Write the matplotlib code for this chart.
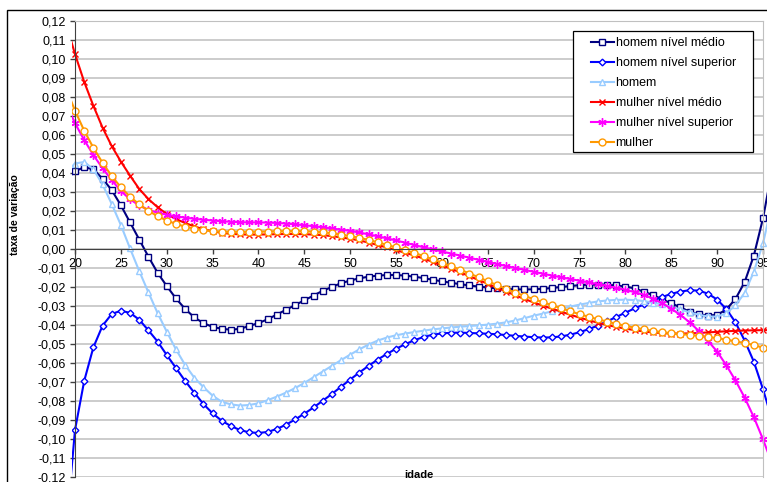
import numpy as np
import matplotlib
matplotlib.use("Agg")
import matplotlib.pyplot as plt
from matplotlib.ticker import FuncFormatter, FixedLocator
from matplotlib.transforms import Bbox, TransformedBbox
from matplotlib.patches import Rectangle

plt.rcParams['font.family'] = ['Liberation Sans', 'DejaVu Sans']

# ages 19..96 (the axis shows 20..95, the curves run a little past both ends)
idade = list(range(19, 97))

homem_medio = [
    0.036, 0.041, 0.043, 0.042, 0.037, 0.031, 0.023, 0.014, 0.005, -0.004,
    -0.0125, -0.0195, -0.026, -0.0315, -0.036, -0.039, -0.041, -0.042, -0.0425, -0.042,
    -0.0405, -0.039, -0.037, -0.0345, -0.032, -0.0295, -0.027, -0.0245, -0.022, -0.020,
    -0.018, -0.0166, -0.0154, -0.0146, -0.014, -0.0137, -0.0137, -0.014, -0.0146, -0.0153,
    -0.0162, -0.017, -0.0178, -0.0185, -0.0192, -0.0198, -0.0203, -0.0207, -0.021, -0.0212,
    -0.0213, -0.0212, -0.021, -0.0205, -0.020, -0.0195, -0.019, -0.0188, -0.0187, -0.0188,
    -0.0192, -0.0198, -0.0207, -0.0225, -0.0242, -0.0265, -0.0286, -0.0307, -0.033, -0.0344,
    -0.035, -0.0347, -0.0318, -0.0263, -0.0174, -0.0035, 0.0161, 0.042,
]

homem_superior = [
    -0.150, -0.0953, -0.0695, -0.0518, -0.0404, -0.0342, -0.0325, -0.0336, -0.0372, -0.0428,
    -0.0487, -0.0558, -0.0626, -0.0694, -0.0756, -0.0816, -0.0865, -0.0904, -0.0932, -0.0953,
    -0.0965, -0.0968, -0.0963, -0.0947, -0.0925, -0.0897, -0.0867, -0.0834, -0.0799, -0.0763,
    -0.0725, -0.0687, -0.065, -0.0615, -0.0582, -0.0552, -0.0525, -0.0501, -0.048, -0.0463,
    -0.0451, -0.0444, -0.0441, -0.044, -0.0442, -0.0444, -0.0446, -0.0449, -0.0453, -0.0457,
    -0.0461, -0.0464, -0.0466, -0.0465, -0.046, -0.0451, -0.0438, -0.0422, -0.0403, -0.0381,
    -0.0358, -0.0335, -0.0313, -0.0292, -0.0272, -0.0253, -0.0236, -0.0224, -0.0217, -0.0219,
    -0.0235, -0.0266, -0.0316, -0.0386, -0.0482, -0.0593, -0.0738, -0.090,
]

homem = [
    0.040, 0.045, 0.0458, 0.042, 0.034, 0.0237, 0.0126, 0.0003, -0.0116, -0.0228,
    -0.0337, -0.0435, -0.0528, -0.061, -0.0677, -0.0727, -0.0772, -0.0804, -0.0818, -0.0824,
    -0.0821, -0.0812, -0.0796, -0.0777, -0.0756, -0.0732, -0.0705, -0.0675, -0.0645, -0.0615,
    -0.0585, -0.0556, -0.0528, -0.0503, -0.0482, -0.0466, -0.0454, -0.0445, -0.0437, -0.043,
    -0.0423, -0.0418, -0.0413, -0.0409, -0.0405, -0.0402, -0.0398, -0.0393, -0.0386, -0.0376,
    -0.0364, -0.0351, -0.034, -0.0328, -0.0316, -0.0303, -0.0293, -0.0284, -0.0276, -0.0271,
    -0.0268, -0.0267, -0.0269, -0.0274, -0.0282, -0.0292, -0.0304, -0.0318, -0.0333, -0.0346,
    -0.0355, -0.0356, -0.0338, -0.0297, -0.0231, -0.012, 0.003, 0.024,
]

mulher_medio = [
    0.119, 0.1026, 0.088, 0.0754, 0.0639, 0.0542, 0.046, 0.0386, 0.0316, 0.0263,
    0.022, 0.0184, 0.0158, 0.0137, 0.0119, 0.0104, 0.0093, 0.0085, 0.008, 0.0077,
    0.0076, 0.0076, 0.0077, 0.0078, 0.0079, 0.0079, 0.0078, 0.0076, 0.0073, 0.0068,
    0.0061, 0.0054, 0.0045, 0.0034, 0.0021, 0.0008, -0.0006, -0.002, -0.0034, -0.005,
    -0.0068, -0.0086, -0.0104, -0.0123, -0.0143, -0.0163, -0.0183, -0.0204, -0.0224, -0.0244,
    -0.0263, -0.0281, -0.0298, -0.0314, -0.033, -0.0346, -0.0361, -0.0375, -0.0388, -0.04,
    -0.041, -0.0419, -0.0427, -0.0434, -0.0439, -0.0443, -0.0445, -0.0445, -0.0444, -0.0442,
    -0.0439, -0.0436, -0.0433, -0.0431, -0.0429, -0.0428, -0.0427, -0.0427,
]

mulher_superior = [
    0.077, 0.0662, 0.0574, 0.0495, 0.0425, 0.0363, 0.0305, 0.0262, 0.0229, 0.0206,
    0.0191, 0.018, 0.0172, 0.0165, 0.0159, 0.0154, 0.015, 0.0146, 0.0143, 0.0141,
    0.014, 0.014, 0.0139, 0.0137, 0.0134, 0.013, 0.0125, 0.012, 0.0114, 0.0108,
    0.0102, 0.0095, 0.0087, 0.0077, 0.0067, 0.0056, 0.0045, 0.0033, 0.0021, 0.0009,
    -0.0002, -0.0013, -0.0024, -0.0035, -0.0046, -0.0057, -0.0068, -0.0079, -0.009, -0.01,
    -0.011, -0.012, -0.013, -0.014, -0.0149, -0.0158, -0.0167, -0.0176, -0.0185, -0.0195,
    -0.0205, -0.0215, -0.0227, -0.0241, -0.0261, -0.0285, -0.0314, -0.0347, -0.0386, -0.0431,
    -0.0483, -0.054, -0.0612, -0.0692, -0.0782, -0.0885, -0.1002, -0.113,
]

mulher = [
    0.085, 0.0728, 0.0623, 0.0533, 0.0454, 0.0384, 0.0325, 0.0275, 0.0235, 0.0201,
    0.0173, 0.015, 0.0132, 0.0118, 0.0107, 0.0099, 0.0094, 0.0091, 0.009, 0.009,
    0.009, 0.0091, 0.0092, 0.0093, 0.0094, 0.0094, 0.0093, 0.0091, 0.0088, 0.0083,
    0.0076, 0.0068, 0.0059, 0.0048, 0.0035, 0.0022, 0.0008, -0.0006, -0.0021, -0.0037,
    -0.0054, -0.0072, -0.009, -0.0109, -0.0129, -0.0149, -0.017, -0.019, -0.021, -0.0229,
    -0.0247, -0.0264, -0.028, -0.0296, -0.0312, -0.0328, -0.0343, -0.0357, -0.037, -0.0382,
    -0.0394, -0.0404, -0.0414, -0.0423, -0.0431, -0.0438, -0.0443, -0.0448, -0.0452, -0.0457,
    -0.0463, -0.0469, -0.0477, -0.0486, -0.0495, -0.0506, -0.0519, -0.0534,
]

series = [
    ("homem nível médio", homem_medio, "#000080", "s", 5.0, "white"),
    ("homem nível superior", homem_superior, "#0000ff", "D", 3.4, "white"),
    ("homem", homem, "#99ccff", "^", 5.0, "white"),
    ("mulher nível médio", mulher_medio, "#ff0000", "x", 5.0, "none"),
    ("mulher nível superior", mulher_superior, "#ff00ff", (6, 2, 0), 6.0, "none"),
    ("mulher", mulher, "#ff9900", "o", 5.0, "white"),
]

W, H = 767, 482
fig = plt.figure(figsize=(W / 100, H / 100), dpi=100)
ax = fig.add_axes([75 / W, 5 / H, 688 / W, 456 / H])

# outer chart frame
fig.patches.append(Rectangle((7 / W, -0.1), 1.2, 1.1 - 10 / H, transform=fig.transFigure,
                             fill=False, edgecolor="black", linewidth=1.0, zorder=0))

ax.set_xlim(20, 95)
ax.set_ylim(-0.12, 0.12)

# lines are allowed to spill a few pixels past the plot area, as in Excel
clip = TransformedBbox(Bbox([[-3 / 688, -2 / 456], [1 + 8 / 688, 1 + 2 / 456]]), ax.transAxes)

for label, vals, color, marker, ms, face in series:
    ln, = ax.plot(idade, vals, color=color, lw=1.5, marker=marker, markersize=ms,
                  markerfacecolor=face, markeredgecolor=color, markeredgewidth=1.0,
                  label=label, solid_joinstyle="round")
    ln.set_clip_box(clip)

ax.yaxis.set_major_locator(FixedLocator(np.arange(-12, 13) / 100))
ax.yaxis.set_major_formatter(FuncFormatter(lambda v, p: f"{v:.2f}".replace(".", ",").replace("-0,00", "0,00")))
ax.xaxis.set_major_locator(FixedLocator(range(20, 96, 5)))
ax.grid(axis="y", color="#c8c8c8", linewidth=1.3)
ax.set_axisbelow(True)

ax.spines["bottom"].set_position(("data", 0))
ax.spines["bottom"].set_color("#404040")
ax.spines["left"].set_color("#404040")
for s in ("top", "right"):
    ax.spines[s].set_color("#c0c0c0")
ax.tick_params(axis="both", direction="out", length=3.6, width=1, color="#404040",
               labelsize=9, pad=3)
ax.tick_params(axis="x", pad=3)

ax.set_ylabel("taxa de variação", fontsize=7.5, fontweight="bold")
ax.yaxis.set_label_coords(-0.08, 0.575)
ax.text(0.5, 0.004, "idade", transform=ax.transAxes, ha="center", va="center",
        fontsize=8, fontweight="bold")

# legend entries without frame, box drawn separately so the side margins can be wider
leg = ax.legend(loc="upper left", bbox_to_anchor=(588 / W, 1 - 35 / H),
                bbox_transform=fig.transFigure, fontsize=9, numpoints=1,
                frameon=False, handlelength=1.85, handletextpad=0.15,
                labelspacing=0.63, borderpad=0.2, borderaxespad=0)
leg.set_zorder(6)
box = Rectangle((573 / W, 1 - 152 / H), 180 / W, 121 / H, transform=fig.transFigure,
                facecolor="white", edgecolor="black", linewidth=0.9, zorder=5,
                clip_on=False)
ax.add_patch(box)

fig.savefig("out.png", dpi=100)
